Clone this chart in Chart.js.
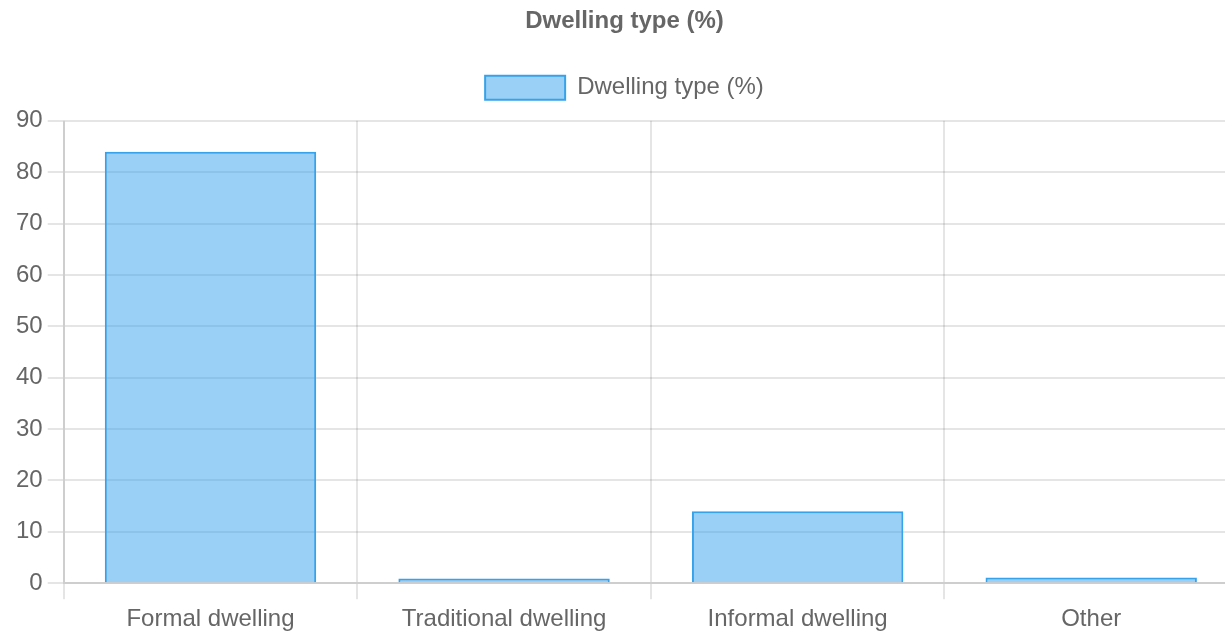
<!DOCTYPE html>
<html>
<head>
<meta charset="utf-8">
<script src="https://cdn.jsdelivr.net/npm/chart.js@4.4.0/dist/chart.umd.min.js"></script>
<style>
  html, body { margin: 0; padding: 0; background: #fff; overflow: hidden; }
  #wrap { position: absolute; left: 0; top: 0; width: 1240px; height: 640px; }
</style>
</head>
<body>
<div id="wrap"><canvas id="c"></canvas></div>
<script>
const chartTitle = 'Dwelling type (%)';
const seriesLabel = 'Dwelling type (%)';
const categories = ['Formal dwelling', 'Traditional dwelling', 'Informal dwelling', 'Other'];
const values = [84.0, 0.9, 14.0, 1.1];
const yTicks = [0, 10, 20, 30, 40, 50, 60, 70, 80, 90];

const FONT = "'Helvetica Neue', Helvetica, Arial, 'Liberation Sans', sans-serif";
Chart.defaults.font.family = FONT;
Chart.defaults.color = '#666';

const legendGap = {
  id: 'legendGap',
  beforeInit(chart) {
    const origFit = chart.legend.fit;
    chart.legend.fit = function () {
      origFit.bind(chart.legend)();
      this.height += 11;
    };
  }
};

new Chart(document.getElementById('c'), {
  type: 'bar',
  data: {
    labels: categories,
    datasets: [{
      label: seriesLabel,
      data: values,
      backgroundColor: 'rgba(54,162,235,0.5)',
      borderColor: 'rgb(54,162,235)',
      borderWidth: 2,
      borderSkipped: 'bottom'
    }]
  },
  plugins: [legendGap],
  options: {
    responsive: true,
    maintainAspectRatio: false,
    animation: false,
    layout: { padding: { left: 11, right: 2, top: 0, bottom: 0 } },
    plugins: {
      title: {
        display: true,
        text: chartTitle,
        color: '#666',
        font: { size: 24, weight: 'bold' },
        padding: { top: 7, bottom: 30 }
      },
      legend: {
        display: true,
        labels: {
          boxWidth: 80,
          boxHeight: 24,
          font: { size: 24 },
          color: '#666',
          padding: 10
        }
      },
      tooltip: { enabled: false }
    },
    scales: {
      x: {
        grid: { color: 'rgba(0,0,0,0.1)', lineWidth: 2, tickLength: 16, offset: true },
        border: { color: 'rgba(0,0,0,0.1)', width: 2 },
        ticks: { font: { size: 24 }, color: '#666', padding: 6, maxRotation: 0, autoSkip: false }
      },
      y: {
        min: 0,
        max: 90,
        afterBuildTicks: (axis) => { axis.ticks = yTicks.map(v => ({ value: v })); },
        grid: { color: 'rgba(0,0,0,0.1)', lineWidth: 2, tickLength: 16 },
        border: { color: 'rgba(0,0,0,0.1)', width: 2 },
        ticks: { font: { size: 24 }, color: '#666', padding: 5 }
      }
    }
  }
});
</script>
</body>
</html>
